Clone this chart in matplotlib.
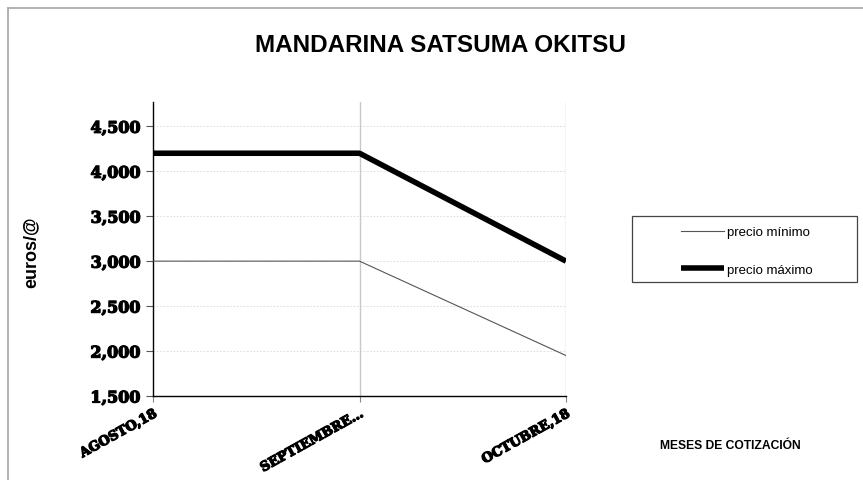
import matplotlib
matplotlib.use("Agg")
import matplotlib.pyplot as plt
from matplotlib.patches import Rectangle
from matplotlib.lines import Line2D
from matplotlib.ticker import FuncFormatter, FixedLocator
import matplotlib.patheffects as pe

categories = ["AGOSTO,18", "SEPTIEMBRE…", "OCTUBRE,18"]
precio_minimo = [3.0, 3.0, 1.95]
precio_maximo = [4.2, 4.2, 3.0]
yticks = [1.5, 2.0, 2.5, 3.0, 3.5, 4.0, 4.5]

W, H = 863, 481
fig = plt.figure(figsize=(W / 100, H / 100), dpi=100)
fig.patch.set_facecolor("white")

# outer border (left & top visible)
fig.add_artist(Line2D([8 / W, 8 / W], [0, 1 - 9 / H], transform=fig.transFigure,
                      color="#a6a6a6", lw=1.2))
fig.add_artist(Line2D([8 / W, 1], [1 - 9 / H, 1 - 9 / H], transform=fig.transFigure,
                      color="#a6a6a6", lw=1.2))

left, right, top, bottom = 153, 566, 103, 397
ax = fig.add_axes([left / W, 1 - bottom / H, (right - left) / W, (bottom - top) / H])

x = list(range(len(categories)))
ax.plot(x, precio_minimo, color="#555555", lw=0.8, label="precio mínimo", zorder=3)
ax.plot(x, precio_maximo, color="black", lw=4.0, label="precio máximo",
        solid_capstyle="butt", zorder=4)

ax.set_xlim(0, 2)
ax.set_ylim(1.5, 4.77)

ax.yaxis.set_major_locator(FixedLocator(yticks))
ax.yaxis.set_major_formatter(FuncFormatter(lambda v, p: f"{v:.3f}".replace(".", ",")))
ax.set_xticks(x)
ax.set_xticklabels(categories)

# gridlines
for yv in yticks[1:]:
    ax.axhline(yv, color="#d9d9d9", lw=0.6, ls=(0, (2, 2)), zorder=1)
for xv in x[1:]:
    ax.axvline(xv, color="#c8c8c8", lw=1.0, zorder=1)

for s in ["top", "right"]:
    ax.spines[s].set_visible(False)
ax.spines["left"].set_color("black")
ax.spines["bottom"].set_color("black")
ax.spines["left"].set_linewidth(1.0)
ax.spines["bottom"].set_linewidth(1.0)

ax.tick_params(axis="y", direction="out", length=5, width=0.8, color="#555555", pad=4)
ax.tick_params(axis="x", direction="out", length=4, width=0.8, color="#888888", pad=4)

heavy = [pe.withStroke(linewidth=0.9, foreground="black")]
for lab in ax.get_yticklabels():
    lab.set_fontfamily("DejaVu Serif")
    lab.set_fontweight("heavy")
    lab.set_fontsize(11.5)
    lab.set_path_effects(heavy)
for lab in ax.get_xticklabels():
    lab.set_fontfamily("DejaVu Serif")
    lab.set_fontweight("heavy")
    lab.set_fontsize(9.5)
    lab.set_rotation(29)
    lab.set_ha("right")
    lab.set_va("top")
    lab.set_rotation_mode("anchor")
    lab.set_path_effects(heavy)

fig.text(440 / W, 1 - 46 / H, "MANDARINA SATSUMA OKITSU", ha="center", va="center",
         fontsize=17.5, fontweight="bold", family="Liberation Sans")
fig.text(31 / W, 1 - 252 / H, "euros/@", ha="center", va="center", rotation=90,
         fontsize=13, fontweight="bold", family="Liberation Sans")
fig.text(730 / W, 1 - 446 / H, "MESES DE COTIZACIÓN", ha="center", va="center",
         fontsize=8.7, fontweight="bold", family="Liberation Sans")

# legend box
fig.add_artist(Rectangle((632 / W, 1 - 283 / H), (857 - 632) / W, (283 - 217) / H,
                         transform=fig.transFigure, fill=False, edgecolor="#444444", lw=0.9))
handles, labels = ax.get_legend_handles_labels()
leg = fig.legend(handles, labels, loc="center left",
                 bbox_to_anchor=(669 / W, 1 - 252 / H), frameon=False,
                 prop={"family": "Liberation Sans", "size": 9.5},
                 handlelength=3.3, handletextpad=0.2, labelspacing=1.95)

fig.savefig("out.png", dpi=100, facecolor="white")
